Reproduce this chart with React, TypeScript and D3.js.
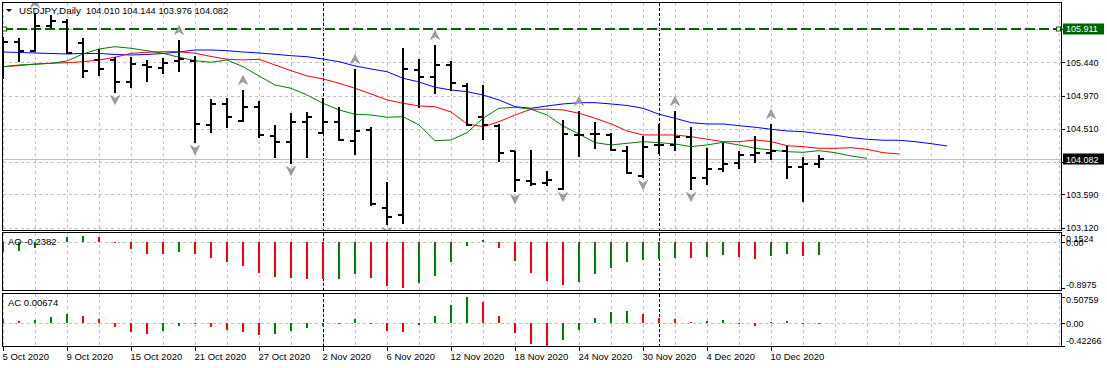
import React, { useEffect, useRef } from "react";
import * as d3 from "d3";

const W = 1107;
const H = 368;

// daily bars, 5 Oct 2020 .. 15 Dec 2020
const opens = [105.612, 105.724, 105.598, 105.948, 106.004, 105.710, 105.472, 105.472, 105.164, 105.402,
  105.360, 105.458, 105.458, 104.562, 104.856, 104.618, 104.814, 104.408, 104.324, 104.604,
  104.450, 104.604, 104.338, 104.492, 103.400, 103.302, 105.332, 105.234, 105.402, 105.108,
  104.674, 104.548, 104.198, 103.778, 103.750, 103.666, 104.422, 104.436, 104.422, 104.198,
  103.848, 104.282, 104.282, 104.394, 103.820, 103.946, 104.030, 104.142, 104.170, 104.198,
  103.974, 104.010];
const highs = [105.794, 105.780, 106.130, 106.102, 106.046, 105.780, 105.626, 105.514, 105.514, 105.472,
  105.500, 105.752, 105.528, 104.926, 104.940, 105.052, 104.898, 104.562, 104.730, 104.744,
  104.940, 104.814, 105.346, 104.534, 103.764, 105.640, 105.486, 105.682, 105.458, 105.150,
  105.122, 104.576, 104.198, 104.212, 103.918, 104.632, 104.758, 104.604, 104.450, 104.268,
  104.408, 104.576, 104.758, 104.534, 104.240, 104.310, 104.198, 104.408, 104.576, 104.268,
  104.114, 104.144];
const lows = [105.220, 105.458, 105.598, 105.934, 105.570, 105.234, 105.262, 105.024, 105.094, 105.178,
  105.290, 105.318, 104.324, 104.464, 104.534, 104.618, 104.394, 104.114, 104.030, 104.114,
  104.450, 104.352, 104.156, 103.442, 103.176, 103.190, 104.814, 105.010, 105.052, 104.562,
  104.366, 104.058, 103.638, 103.722, 103.722, 103.666, 104.128, 104.240, 104.212, 103.890,
  103.834, 104.170, 104.212, 103.666, 103.736, 103.918, 103.960, 104.044, 104.086, 103.820,
  103.498, 103.976];
const closes = [105.724, 105.598, 105.948, 106.018, 105.570, 105.318, 105.346, 105.164, 105.416, 105.374,
  105.430, 105.486, 104.576, 104.856, 104.674, 104.814, 104.422, 104.324, 104.604, 104.674,
  104.604, 104.352, 104.478, 103.456, 103.274, 105.346, 105.234, 105.402, 105.150, 104.562,
  104.562, 104.170, 103.792, 103.736, 103.792, 104.436, 104.422, 104.436, 104.212, 103.890,
  104.254, 104.282, 104.394, 103.820, 103.946, 104.016, 104.142, 104.170, 104.198, 103.974,
  104.016, 104.082];

// alligator lines (jaw / teeth / lips), they run past the last bar
const jaw = [105.584, 105.577, 105.570, 105.563, 105.556, 105.563, 105.563, 105.549, 105.542, 105.549,
  105.563, 105.584, 105.612, 105.612, 105.602, 105.584, 105.570, 105.552, 105.532, 105.518,
  105.486, 105.448, 105.388, 105.346, 105.308, 105.216, 105.164, 105.090, 105.052, 105.028,
  104.982, 104.912, 104.818, 104.796, 104.828, 104.856, 104.874, 104.874, 104.856, 104.835,
  104.796, 104.712, 104.656, 104.594, 104.576, 104.576, 104.552, 104.530, 104.502, 104.478,
  104.468, 104.440, 104.418, 104.384, 104.362, 104.348, 104.348, 104.328, 104.300, 104.268];
const teeth = [105.378, 105.392, 105.416, 105.426, 105.434, 105.448, 105.472, 105.510, 105.566, 105.580,
  105.588, 105.588, 105.566, 105.521, 105.482, 105.472, 105.482, 105.402, 105.322, 105.248,
  105.206, 105.146, 105.076, 104.996, 104.912, 104.866, 104.828, 104.818, 104.744, 104.576,
  104.538, 104.608, 104.702, 104.782, 104.782, 104.772, 104.726, 104.656, 104.576, 104.478,
  104.422, 104.422, 104.422, 104.398, 104.362, 104.328, 104.328, 104.352, 104.328, 104.272,
  104.258, 104.235, 104.235, 104.244, 104.221, 104.174, 104.156];
const lips = [105.378, 105.402, 105.412, 105.426, 105.458, 105.556, 105.626, 105.658, 105.636, 105.602,
  105.566, 105.510, 105.462, 105.440, 105.472, 105.378, 105.248, 105.122, 105.076, 104.982,
  104.866, 104.772, 104.712, 104.702, 104.670, 104.678, 104.562, 104.342, 104.352, 104.454,
  104.656, 104.796, 104.810, 104.782, 104.702, 104.548, 104.436, 104.314, 104.282, 104.305,
  104.328, 104.314, 104.296, 104.258, 104.282, 104.319, 104.282, 104.235, 104.212, 104.188,
  104.179, 104.202, 104.174, 104.128, 104.095];

const fractalUp = [2, 11, 15, 22, 27, 36, 42, 48];
const fractalDown = [7, 12, 18, 24, 32, 35, 40, 43];

const aoValues = [-0.181, -0.162, -0.103, 0.012, 0.111, 0.123, 0.111, 0.010, -0.131, -0.228,
  -0.232, -0.181, -0.228, -0.306, -0.384, -0.462, -0.605, -0.677, -0.702, -0.716,
  -0.722, -0.716, -0.619, -0.689, -0.853, -0.8975, -0.786, -0.650, -0.377, -0.064,
  0.045, -0.103, -0.357, -0.591, -0.747, -0.833, -0.767, -0.611, -0.501, -0.377,
  -0.338, -0.332, -0.299, -0.304, -0.279, -0.240, -0.279, -0.318, -0.267, -0.220,
  -0.267, -0.2382];
const acValues = [0.076, 0.045, 0.064, 0.121, 0.178, 0.140, 0.083, -0.064, -0.159, -0.197,
  -0.146, -0.045, -0.020, -0.064, -0.121, -0.159, -0.223, -0.197, -0.146, -0.083,
  -0.045, -0.008, 0.076, -0.010, -0.146, -0.159, -0.032, 0.146, 0.350, 0.50759,
  0.413, 0.146, -0.191, -0.388, -0.42266, -0.318, -0.127, 0.108, 0.223, 0.242,
  0.178, 0.108, 0.083, 0.032, 0.045, 0.064, -0.013, -0.045, 0.025, 0.045,
  -0.005, 0.00674];
const aoFirstUp = true;
const acFirstUp = false;

const tickBars = [0, 4, 8, 12, 16, 20, 24, 28, 32, 36, 40, 44, 48];
const tickLabels = ["5 Oct 2020", "9 Oct 2020", "15 Oct 2020", "21 Oct 2020", "27 Oct 2020", "2 Nov 2020",
  "6 Nov 2020", "12 Nov 2020", "18 Nov 2020", "24 Nov 2020", "30 Nov 2020", "4 Dec 2020", "10 Dec 2020"];
const separators = [20, 41];

const priceGrid = [105.906, 105.44, 104.97, 104.51, 104.05, 103.59, 103.12];
const priceLabels = ["", "105.440", "104.970", "104.510", "", "103.590", "103.120"];
const hlinePrice = 105.911;
const bidPrice = 104.082;
const header = "104.010 104.144 103.976 104.082";

const font = "'Liberation Sans', Arial, sans-serif";
const L = 2.5, R = 1061.5;

export default function App() {
  const ref = useRef<SVGSVGElement>(null);

  useEffect(() => {
    const svg = d3.select(ref.current);
    svg.selectAll("*").remove();

    const panels = {
      main: { top: 2.5, bottom: 230.5 },
      ao: { top: 232.5, bottom: 290.5 },
      ac: { top: 293.5, bottom: 346.5 },
    };

    const x = d3.scaleLinear().domain([0, 66]).range([3, 1059]);
    const y = d3.scaleLinear().domain([103.077, 106.27]).range([231, 3]);
    const yAO = d3.scaleLinear().domain([-0.8975, 0.1524]).range([288.3, 234.5]);
    const yAC = d3.scaleLinear().domain([-0.42266, 0.50759]).range([345.5, 296.7]);

    svg.append("rect").attr("width", W).attr("height", H).attr("fill", "#fff");

    const defs = svg.append("defs");
    Object.entries(panels).forEach(([k, p]) => {
      defs.append("clipPath").attr("id", "clip-" + k)
        .append("rect").attr("x", L + 0.5).attr("y", p.top + 0.5)
        .attr("width", R - L - 1).attr("height", p.bottom - p.top - 1);
    });

    // grids + separators for each panel
    Object.entries(panels).forEach(([k, p]) => {
      const g = svg.append("g").attr("clip-path", `url(#clip-${k})`);
      g.selectAll("line.vg").data(d3.range(0, 67, 2)).enter().append("line")
        .attr("x1", (d) => x(d) + 0.5).attr("x2", (d) => x(d) + 0.5)
        .attr("y1", p.top).attr("y2", p.bottom)
        .attr("stroke", "#c0c0c0").attr("stroke-dasharray", "3,3")
        .attr("shape-rendering", "crispEdges");
      g.selectAll("line.sep").data(separators).enter().append("line")
        .attr("x1", (d) => x(d) + 0.5).attr("x2", (d) => x(d) + 0.5)
        .attr("y1", p.top).attr("y2", p.bottom)
        .attr("stroke", "#000").attr("stroke-dasharray", "3,2")
        .attr("shape-rendering", "crispEdges");
    });

    // ---- main panel
    const main = svg.append("g").attr("clip-path", "url(#clip-main)");
    main.selectAll("line.hg").data(priceGrid).enter().append("line")
      .attr("x1", L).attr("x2", R)
      .attr("y1", (d) => Math.round(y(d)) + 0.5).attr("y2", (d) => Math.round(y(d)) + 0.5)
      .attr("stroke", "#c0c0c0").attr("stroke-dasharray", "3,3")
      .attr("shape-rendering", "crispEdges");

    main.append("line")
      .attr("x1", L).attr("x2", R)
      .attr("y1", Math.round(y(bidPrice)) + 0.5).attr("y2", Math.round(y(bidPrice)) + 0.5)
      .attr("stroke", "#c0c0c0").attr("shape-rendering", "crispEdges");

    main.append("line")
      .attr("x1", L).attr("x2", R)
      .attr("y1", Math.round(y(hlinePrice))).attr("y2", Math.round(y(hlinePrice)))
      .attr("stroke", "#006400").attr("stroke-width", 2).attr("stroke-dasharray", "10,4")
      .attr("shape-rendering", "crispEdges");
    [4.5, 1058.5].forEach((sx) => {
      main.append("rect").attr("x", sx - 2).attr("y", Math.round(y(hlinePrice)) - 2)
        .attr("width", 4).attr("height", 4).attr("fill", "#fff").attr("stroke", "#006400");
    });

    const line = d3.line<number>().x((d, i) => x(i)).y((d) => y(d));
    [[jaw, "#0000ff"], [teeth, "#ff0000"], [lips, "#008000"]].forEach(([vals, c]) => {
      main.append("path").attr("d", line(vals as number[]) as string)
        .attr("fill", "none").attr("stroke", c as string).attr("stroke-width", 1);
    });

    const bars = main.append("g").attr("stroke", "#000").attr("stroke-width", 2)
      .attr("shape-rendering", "crispEdges");
    opens.forEach((o, i) => {
      const bx = x(i);
      bars.append("line").attr("x1", bx).attr("x2", bx)
        .attr("y1", Math.round(y(highs[i])) - 0.5).attr("y2", Math.round(y(lows[i])) + 0.5);
      bars.append("line").attr("x1", bx - 5).attr("x2", bx)
        .attr("y1", Math.round(y(o))).attr("y2", Math.round(y(o)));
      bars.append("line").attr("x1", bx).attr("x2", bx + 5)
        .attr("y1", Math.round(y(closes[i]))).attr("y2", Math.round(y(closes[i])));
    });

    const arrowUp = "M0,-4.5L4.5,4.5L0,1.5L-4.5,4.5Z";
    const arrowDown = "M0,4.5L4.5,-4.5L0,-1.5L-4.5,-4.5Z";
    main.selectAll("path.fu").data(fractalUp).enter().append("path")
      .attr("d", arrowUp)
      .attr("transform", (d) => `translate(${x(d)},${y(highs[d]) - 10})`)
      .attr("fill", "#a0a0a0").attr("stroke", "#808080").attr("stroke-width", 0.6);
    main.selectAll("path.fd").data(fractalDown).enter().append("path")
      .attr("d", arrowDown)
      .attr("transform", (d) => `translate(${x(d)},${y(lows[d]) + 8})`)
      .attr("fill", "#a0a0a0").attr("stroke", "#808080").attr("stroke-width", 0.6);

    // header
    svg.append("path").attr("d", "M6,9L12,9L9,12Z").attr("fill", "#000");
    const txt = (gx: number, gy: number, s: string, fill = "#000", size = 9) =>
      svg.append("text").attr("x", gx).attr("y", gy).attr("font-family", font)
        .attr("font-size", size).attr("fill", fill).text(s);
    txt(19, 14, "USDJPY,Daily", "#000", 9.8);
    txt(86, 14, header, "#000", 9.3);

    // ---- oscillators
    const histo = (key: string, vals: number[], sc: d3.ScaleLinear<number, number>, firstUp: boolean) => {
      const g = svg.append("g").attr("clip-path", `url(#clip-${key})`);
      const z = sc(0);
      g.append("line").attr("x1", L).attr("x2", R)
        .attr("y1", Math.round(z) + 0.5).attr("y2", Math.round(z) + 0.5)
        .attr("stroke", "#c0c0c0").attr("stroke-dasharray", "3,3")
        .attr("shape-rendering", "crispEdges");
      g.selectAll("rect").data(vals).enter().append("rect")
        .attr("x", (d, i) => x(i) - 1).attr("width", 2)
        .attr("y", (d) => Math.min(sc(d), z))
        .attr("height", (d) => Math.max(1, Math.abs(sc(d) - z)))
        .attr("fill", (d, i) => ((i === 0 ? firstUp : d >= vals[i - 1]) ? "#008000" : "#ff0000"))
        .attr("shape-rendering", "crispEdges");
    };
    histo("ao", aoValues, yAO, aoFirstUp);
    histo("ac", acValues, yAC, acFirstUp);
    txt(8, 244.5, "AO -0.2382", "#000", 9.5);
    txt(8, 306, "AC 0.00674", "#000", 9.5);

    // frames
    Object.values(panels).forEach((p) => {
      svg.append("rect").attr("x", L).attr("y", p.top).attr("width", R - L)
        .attr("height", p.bottom - p.top).attr("fill", "none").attr("stroke", "#000")
        .attr("shape-rendering", "crispEdges");
    });

    // right scale of main panel
    const axisTick = (ty: number) =>
      svg.append("line").attr("x1", R).attr("x2", R + 3.5)
        .attr("y1", Math.round(ty) + 0.5).attr("y2", Math.round(ty) + 0.5)
        .attr("stroke", "#000").attr("shape-rendering", "crispEdges");
    priceGrid.forEach((v, i) => {
      axisTick(y(v));
      if (priceLabels[i]) txt(1066, y(v) + 3.3, priceLabels[i]);
    });
    const boxLabel = (v: number, bg: string) => {
      const cy = y(v);
      svg.append("rect").attr("x", 1063).attr("y", Math.round(cy) - 5.5)
        .attr("width", 41).attr("height", 11).attr("fill", bg);
      txt(1066, cy + 3.3, v.toFixed(3), "#fff");
    };
    boxLabel(hlinePrice, "#006400");
    boxLabel(bidPrice, "#000");

    // oscillator scales (max and zero labels overlap, as in the terminal)
    const oscLabels = (key: "ao" | "ac", sc: d3.ScaleLinear<number, number>, vals: number[], texts: string[]) => {
      const p = panels[key];
      vals.forEach((v, i) => {
        axisTick(sc(v));
        const ly = Math.min(p.bottom - 2.5, Math.max(p.top + 9.5, sc(v) + 3.3));
        txt(1066, ly, texts[i]);
      });
    };
    oscLabels("ao", yAO, [0.1524, 0, -0.8975], ["0.1524", "0.00", "-0.8975"]);
    oscLabels("ac", yAC, [0.50759, 0, -0.42266], ["0.50759", "0.00", "-0.42266"]);

    // time axis
    tickBars.forEach((b, i) => {
      svg.append("line").attr("x1", x(b) + 0.5).attr("x2", x(b) + 0.5)
        .attr("y1", panels.ac.bottom).attr("y2", panels.ac.bottom + 4)
        .attr("stroke", "#000").attr("shape-rendering", "crispEdges");
      txt(x(b) - 0.5, 359.5, tickLabels[i], "#000", 9.5);
    });
  }, []);

  return (
    <svg ref={ref} width={W} height={H}
      style={{ position: "absolute", left: 0, top: 0, display: "block" }} />
  );
}
